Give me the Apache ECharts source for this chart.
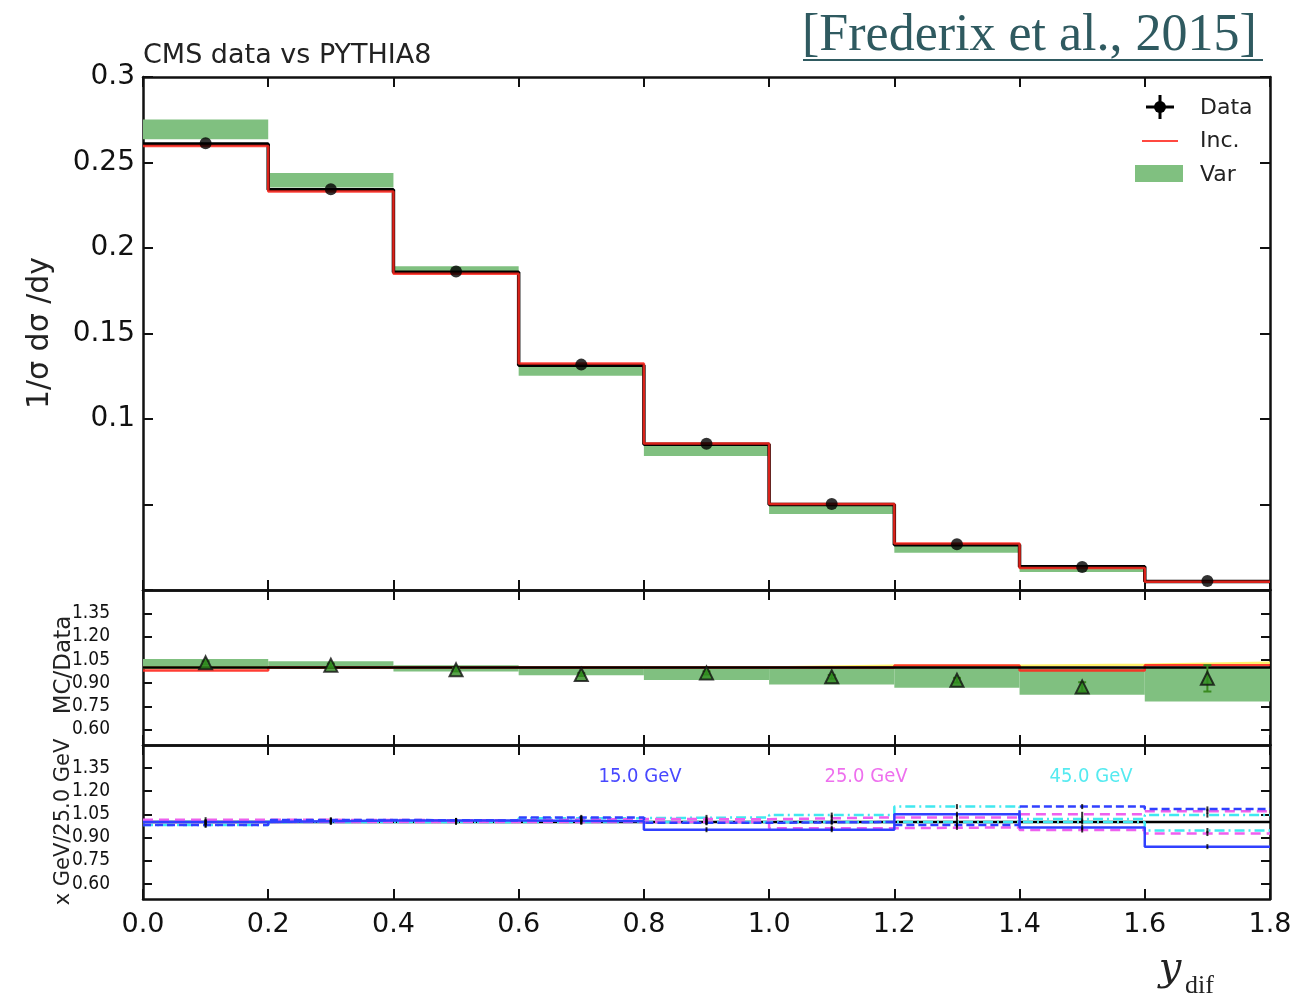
<!DOCTYPE html>
<html>
<head>
<meta charset="utf-8">
<script src="https://cdn.jsdelivr.net/npm/echarts@6/dist/echarts.min.js"></script>
<style>
html,body{margin:0;padding:0;background:#fff;}
#chart{width:1299px;height:999px;}
</style>
</head>
<body>
<div id="chart"></div>
<script>
// ---------- DATA ----------
const binEdges   = [0.0, 0.2, 0.4, 0.6, 0.8, 1.0, 1.2, 1.4, 1.6, 1.8];
const binCenters = [0.1, 0.3, 0.5, 0.7, 0.9, 1.1, 1.3, 1.5, 1.7];
const xTickLabels = ['0.0','0.2','0.4','0.6','0.8','1.0','1.2','1.4','1.6','1.8'];

// top panel: 1/sigma dsigma/dy
const dataPoints = [0.2613, 0.2343, 0.1863, 0.1318, 0.0855, 0.0503, 0.0268, 0.0134, 0.0052];
const blackHist  = [0.2608, 0.2340, 0.1858, 0.1315, 0.0852, 0.0500, 0.0265, 0.0136, 0.0050];
const incHist    = [0.2596, 0.2330, 0.1850, 0.1325, 0.0856, 0.0503, 0.0272, 0.0128, 0.0048];
const varLo      = [0.2636, 0.2354, 0.1855, 0.1253, 0.0784, 0.0444, 0.0218, 0.0105, 0.0042];
const varHi      = [0.2752, 0.2439, 0.1894, 0.1322, 0.0855, 0.0497, 0.0274, 0.0136, 0.0050];

// middle panel: MC/Data
const ratioRef    = [1.0, 1.0, 1.0, 1.0, 1.0, 1.0, 1.0, 1.0, 1.0];
const ratioInc    = [0.980, 1.0, 1.0, 1.0, 1.0, 1.0, 1.013, 0.980, 1.015];
const ratioYellow = [1.0, 1.0, 1.0, 1.0, 1.0, 1.012, 1.012, 1.018, 1.030];
const ratioVarLo  = [0.990, 0.995, 0.975, 0.950, 0.920, 0.890, 0.870, 0.825, 0.780];
const ratioVarHi  = [1.055, 1.040, 1.015, 1.000, 1.000, 1.000, 1.000, 1.000, 1.000];
const ratioPts    = [1.030, 1.015, 0.985, 0.955, 0.965, 0.940, 0.918, 0.875, 0.930];
const ratioErr    = [0.010, 0.010, 0.010, 0.010, 0.010, 0.012, 0.015, 0.030, 0.085];
const ratioTicks  = [0.60, 0.75, 0.90, 1.05, 1.20, 1.35];

// bottom panel: x GeV / 25.0 GeV
const gev15a = [1.000, 1.010, 1.010, 1.005, 0.950, 0.950, 1.050, 0.965, 0.840];
const gev15b = [0.980, 1.013, 1.010, 1.030, 0.995, 1.000, 0.980, 1.100, 1.085];
const gev25a = [1.015, 1.013, 1.010, 1.020, 1.018, 1.030, 1.030, 1.050, 1.070];
const gev25b = [1.000, 1.000, 1.000, 1.000, 1.000, 0.960, 0.965, 0.948, 0.925];
const gev45a = [0.980, 1.000, 1.000, 1.025, 1.030, 1.045, 1.100, 1.020, 1.045];
const gev45b = [1.000, 1.000, 1.000, 1.000, 1.000, 1.000, 1.000, 1.000, 0.945];
const energyLabels = ['15.0 GeV', '25.0 GeV', '45.0 GeV'];

// ---------- HELPERS ----------
function stepData(vals){
  const d = vals.map((v,i)=>[binEdges[i], v]);
  d.push([binEdges[binEdges.length-1], vals[vals.length-1]]);
  return d;
}
function bandData(lo, hi){
  return lo.map((l,i)=>[binEdges[i], binEdges[i+1], l, hi[i]]);
}
function bandSeries(lo, hi, xi, yi, name){
  return {
    type:'custom', name:name, xAxisIndex:xi, yAxisIndex:yi, z:1,
    data: bandData(lo, hi), encode:{x:[0,1], y:[2,3]}, clip:true,
    renderItem:function(params, api){
      const p0 = api.coord([api.value(0), api.value(3)]);
      const p1 = api.coord([api.value(1), api.value(2)]);
      return {type:'rect', shape:{x:p0[0], y:p0[1], width:p1[0]-p0[0], height:p1[1]-p0[1]},
              style:{fill:'#80c080'}};
    }
  };
}
function stepLine(vals, xi, yi, color, width, dash, z){
  return {
    type:'line', xAxisIndex:xi, yAxisIndex:yi, step:'end', data:stepData(vals),
    symbol:'none', z:z||3, silent:true,
    lineStyle:{color:color, width:width, type: dash || 'solid'}
  };
}
const FONT = 'DejaVu Sans';
const FONTC = 'DejaVu Sans Condensed';

function xAxes(grid, labels){
  const common = {
    type:'value', gridIndex:grid, min:0, max:1.8, interval:0.2,
    splitLine:{show:false},
    axisLine:{show:true, onZero:false, lineStyle:{color:'#111', width:2.5}},
    axisTick:{show:true, inside:true, length:10, lineStyle:{color:'#111', width:2}}
  };
  return [
    Object.assign({}, common, {position:'bottom',
      axisLabel:{show:labels, margin:12, fontFamily:FONT, fontSize:27, color:'#111',
        formatter:function(v){ const i = Math.round(v/0.2); return xTickLabels[i] || ''; }}}),
    Object.assign({}, common, {position:'top', axisLabel:{show:false}})
  ];
}

const option = {
  animation:false,
  backgroundColor:'#fff',
  grid:[
    {left:143, right:29, top:77, height:513},
    {left:143, right:29, top:590, height:155},
    {left:143, right:29, top:745, height:154}
  ],
  xAxis: [].concat(xAxes(0,false), xAxes(1,false), xAxes(2,true)),
  yAxis: [
    {type:'value', gridIndex:0, position:'left', min:0, max:0.3, interval:0.05,
     splitLine:{show:false},
     axisLine:{show:true, onZero:false, lineStyle:{color:'#111', width:2.5}},
     axisTick:{show:true, inside:true, length:10, lineStyle:{color:'#111', width:2}},
     axisLabel:{margin:8, fontFamily:FONT, fontSize:28, color:'#111',
       formatter:function(v){ return v > 0.09 ? String(+v.toFixed(2)) : ''; }}},
    {type:'value', gridIndex:0, position:'right', min:0, max:0.3, interval:0.05,
     splitLine:{show:false},
     axisLine:{show:true, onZero:false, lineStyle:{color:'#111', width:2.5}},
     axisTick:{show:true, inside:true, length:10, lineStyle:{color:'#111', width:2}},
     axisLabel:{show:false}},
    {type:'value', gridIndex:1, position:'left', min:0.5, max:1.5,
     splitLine:{show:false},
     axisLine:{show:true, onZero:false, lineStyle:{color:'#111', width:2.5}},
     axisTick:{show:true, inside:true, length:9, customValues:ratioTicks, lineStyle:{color:'#111', width:2}},
     axisLabel:{margin:33, fontFamily:FONTC, fontSize:19, color:'#111', customValues:ratioTicks,
       formatter:function(v){ return v.toFixed(2); }}},
    {type:'value', gridIndex:1, position:'right', min:0.5, max:1.5,
     splitLine:{show:false},
     axisLine:{show:true, onZero:false, lineStyle:{color:'#111', width:2.5}},
     axisTick:{show:true, inside:true, length:9, customValues:ratioTicks, lineStyle:{color:'#111', width:2}},
     axisLabel:{show:false}},
    {type:'value', gridIndex:2, position:'left', min:0.5, max:1.5,
     splitLine:{show:false},
     axisLine:{show:true, onZero:false, lineStyle:{color:'#111', width:2.5}},
     axisTick:{show:true, inside:true, length:9, customValues:ratioTicks, lineStyle:{color:'#111', width:2}},
     axisLabel:{margin:33, fontFamily:FONTC, fontSize:19, color:'#111', customValues:ratioTicks,
       formatter:function(v){ return v.toFixed(2); }}},
    {type:'value', gridIndex:2, position:'right', min:0.5, max:1.5,
     splitLine:{show:false},
     axisLine:{show:true, onZero:false, lineStyle:{color:'#111', width:2.5}},
     axisTick:{show:true, inside:true, length:9, customValues:ratioTicks, lineStyle:{color:'#111', width:2}},
     axisLabel:{show:false}}
  ],
  series: [
    // top panel
    bandSeries(varLo, varHi, 0, 0, 'Var'),
    stepLine(blackHist, 0, 0, '#000', 3.5, 'solid', 3),
    stepLine(incHist, 0, 0, 'rgba(255,40,30,0.85)', 2.5, 'solid', 4),
    {type:'scatter', name:'Data', xAxisIndex:0, yAxisIndex:0, z:6,
     data: binCenters.map((x,i)=>[x, dataPoints[i]]),
     symbol:'circle', symbolSize:12, itemStyle:{color:'#000'}},
    // middle panel
    bandSeries(ratioVarLo, ratioVarHi, 2, 2, 'VarRatio'),
    stepLine(ratioYellow, 2, 2, 'rgba(255,240,90,0.9)', 2.5, 'solid', 3),
    stepLine(ratioInc, 2, 2, 'rgba(255,40,30,0.9)', 2.5, 'solid', 4),
    stepLine(ratioRef, 2, 2, '#000', 2.5, 'solid', 5),
    {type:'custom', xAxisIndex:2, yAxisIndex:2, z:6,
     data: binCenters.map((x,i)=>[x, ratioPts[i]-ratioErr[i], ratioPts[i]+ratioErr[i]]),
     encode:{x:0, y:[1,2]},
     renderItem:function(params, api){
       const a = api.coord([api.value(0), api.value(1)]);
       const b = api.coord([api.value(0), api.value(2)]);
       return {type:'group', children:[
         {type:'line', shape:{x1:a[0], y1:a[1], x2:b[0], y2:b[1]}, style:{stroke:'#3a8a20', lineWidth:2}},
         {type:'line', shape:{x1:a[0]-4, y1:a[1], x2:a[0]+4, y2:a[1]}, style:{stroke:'#3a8a20', lineWidth:2}},
         {type:'line', shape:{x1:b[0]-4, y1:b[1], x2:b[0]+4, y2:b[1]}, style:{stroke:'#3a8a20', lineWidth:2}}
       ]};
     }},
    {type:'scatter', xAxisIndex:2, yAxisIndex:2, z:7,
     data: binCenters.map((x,i)=>[x, ratioPts[i]]),
     symbol:'triangle', symbolSize:[13,13],
     itemStyle:{color:'#2e8b1e', borderColor:'#111', borderWidth:2}},
    // bottom panel
    stepLine(ratioRef, 4, 4, '#000', 2.5, 'solid', 2),
    stepLine(gev45b, 4, 4, '#40e8f0', 2.5, [10,4,2,4], 3),
    stepLine(gev45a, 4, 4, '#40e8f0', 2.5, [10,4,2,4], 3),
    stepLine(gev25b, 4, 4, '#ee60ee', 2.5, [10,6], 4),
    stepLine(gev25a, 4, 4, '#ee60ee', 2.5, [10,6], 4),
    stepLine(gev15b, 4, 4, '#3040ff', 2.5, [8,4], 5),
    stepLine(gev15a, 4, 4, '#3040ff', 2.5, 'solid', 5),
    {type:'scatter', xAxisIndex:4, yAxisIndex:4, z:8, silent:true,
     data: [].concat(
       binCenters.map((x,i)=>[x, gev15a[i]]), binCenters.map((x,i)=>[x, gev15b[i]]),
       binCenters.map((x,i)=>[x, gev25a[i]]), binCenters.map((x,i)=>[x, gev25b[i]]),
       binCenters.map((x,i)=>[x, gev45a[i]]), binCenters.map((x,i)=>[x, gev45b[i]])),
     symbol:'rect', symbolSize:[2,5], itemStyle:{color:'#000'}}
  ],
  graphic: [
    {type:'text', x:143, y:56, style:{text:'CMS data vs PYTHIA8', fontFamily:FONT, fontSize:27,
      fill:'#222', align:'left', verticalAlign:'middle'}},
    {type:'text', x:802, y:36, style:{text:'[Frederix et al., 2015]', fontFamily:'Liberation Serif',
      fontSize:52, fill:'#2f5a60', align:'left', verticalAlign:'middle'}},
    {type:'rect', shape:{x:803, y:59, width:460, height:2}, style:{fill:'#2f5a60'}},
    // legend
    {type:'line', shape:{x1:1146, y1:107, x2:1174, y2:107}, style:{stroke:'#000', lineWidth:3}},
    {type:'line', shape:{x1:1160, y1:95, x2:1160, y2:119}, style:{stroke:'#000', lineWidth:3}},
    {type:'circle', shape:{cx:1160, cy:107, r:6}, style:{fill:'#000'}},
    {type:'text', x:1200, y:108, style:{text:'Data', fontFamily:FONT, fontSize:22, fill:'#222', verticalAlign:'middle'}},
    {type:'line', shape:{x1:1142, y1:141, x2:1178, y2:141}, style:{stroke:'rgba(255,40,30,0.85)', lineWidth:2}},
    {type:'text', x:1200, y:141, style:{text:'Inc.', fontFamily:FONT, fontSize:22, fill:'#222', verticalAlign:'middle'}},
    {type:'rect', shape:{x:1135, y:165, width:48, height:17}, style:{fill:'#80c080'}},
    {type:'text', x:1200, y:175, style:{text:'Var', fontFamily:FONT, fontSize:22, fill:'#222', verticalAlign:'middle'}},
    // energy labels
    {type:'text', x:640, y:777, style:{text:energyLabels[0], fontFamily:FONTC, fontSize:20, fill:'#4848ff', align:'center', verticalAlign:'middle'}},
    {type:'text', x:866, y:777, style:{text:energyLabels[1], fontFamily:FONTC, fontSize:20, fill:'#ee70ee', align:'center', verticalAlign:'middle'}},
    {type:'text', x:1091, y:777, style:{text:energyLabels[2], fontFamily:FONTC, fontSize:20, fill:'#55eaf0', align:'center', verticalAlign:'middle'}},
    // axis titles
    {type:'text', x:40, y:333, rotation:Math.PI/2, style:{text:'1/σ dσ /dy', fontFamily:FONT, fontSize:30,
      fill:'#222', align:'center', verticalAlign:'middle'}},
    {type:'text', x:64, y:665, rotation:Math.PI/2, style:{text:'MC/Data', fontFamily:FONT, fontSize:23,
      fill:'#222', align:'center', verticalAlign:'middle'}},
    {type:'text', x:64, y:822, rotation:Math.PI/2, style:{text:'x GeV/25.0 GeV', fontFamily:FONT, fontSize:21,
      fill:'#222', align:'center', verticalAlign:'middle'}},
    {type:'text', x:1170, y:970, style:{text:'y', fontFamily:'DejaVu Serif', fontStyle:'italic', fontSize:40,
      fill:'#222', align:'center', verticalAlign:'middle'}},
    {type:'text', x:1185, y:986, style:{text:'dif', fontFamily:'Liberation Serif', fontSize:26,
      fill:'#222', align:'left', verticalAlign:'middle'}}
  ]
};
const chart = echarts.init(document.getElementById('chart'), null, {renderer:'canvas'});
chart.setOption(option);
</script>
</body>
</html>
